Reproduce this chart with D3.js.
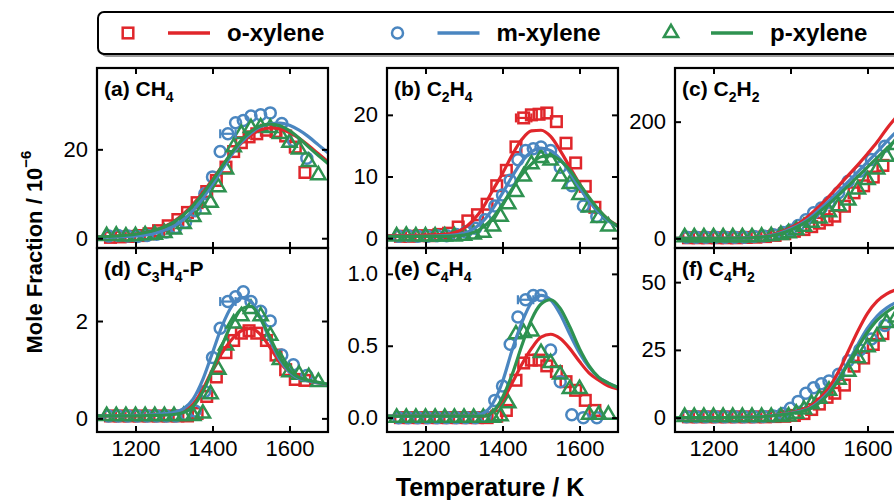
<!DOCTYPE html>
<html lang="en">
<head>
<meta charset="utf-8">
<title>Xylene pyrolysis species profiles</title>
<script src="https://d3js.org/d3.v7.min.js"></script>
<style>
  body { margin: 0; background: #fff; }
  svg text { font-family: "Liberation Sans", Arial, sans-serif; fill: #000; }
</style>
</head>
<body>
<div id="chart"></div>
<script>
// experimental temperatures (K) for each isomer
const T_O = [1135,1160,1185,1210,1235,1260,1285,1310,1335,1360,1385,1410,1435,1455,1475,1495,1515,1540,1565,1590,1615,1640];
const T_M = [1130,1155,1180,1205,1230,1255,1280,1305,1330,1355,1380,1400,1420,1440,1460,1480,1500,1525,1550,1580,1610,1645];
const T_P = [1125,1150,1175,1200,1225,1250,1275,1300,1325,1350,1375,1395,1415,1435,1455,1475,1500,1525,1550,1575,1600,1625,1650,1675];
// model temperature grid (K)
const MODEL_T = [1100,1150,1200,1250,1300,1325,1350,1375,1400,1425,1450,1475,1500,1525,1550,1575,1600,1625,1650,1675,1700];

// (a) CH4, mole fraction / 1e-6
const CH4_O = [0.2,0.3,0.4,0.6,1.0,1.7,2.8,4.2,5.8,8.0,10.5,13.0,16.0,19.5,21.5,22.8,23.5,24.3,24.0,23.0,20.5,14.8];
const CH4_M = [0.5,0.6,0.5,0.4,0.6,0.9,1.4,2.4,3.6,6.2,10.0,13.8,19.5,23.5,26.0,26.5,27.5,27.8,28.2,25.8,22.0,18.0];
const CH4_P = [0.5,0.6,0.4,0.5,0.7,0.8,1.2,2.0,3.2,4.8,6.5,8.0,11.5,15.5,20.5,23.5,24.8,25.0,24.8,23.5,21.5,20.0,17.2,14.2];
const CH4_MOD_O = [0.3,0.5,0.9,1.8,3.8,5.5,7.7,10.3,13.2,16.2,19.0,21.4,23.2,24.4,24.8,24.6,23.8,22.5,20.8,19.0,17.2];
const CH4_MOD_M = [0.2,0.3,0.5,1.1,2.7,4.2,6.3,9.0,12.2,15.5,18.8,21.6,23.7,25.1,25.8,25.9,25.4,24.3,22.8,21.0,19.2];
const CH4_MOD_P = [0.3,0.5,0.9,1.8,3.7,5.3,7.4,10.0,13.0,16.2,19.3,22.0,24.0,25.3,25.7,25.3,24.2,22.5,20.5,18.6,16.8];

// (b) C2H4
const C2H4_O = [0.3,0.3,0.4,0.4,0.6,0.8,1.8,2.8,3.8,5.5,8.5,11.0,14.8,19.5,20.0,20.1,20.3,18.9,15.4,12.2,8.4,5.0];
const C2H4_M = [0.3,0.4,0.3,0.3,0.4,0.4,0.6,1.0,1.6,3.0,5.2,7.0,9.4,12.7,14.2,14.5,14.8,14.2,11.5,8.5,5.2,3.5];
const C2H4_P = [0.3,0.4,0.3,0.3,0.3,0.3,0.3,0.4,0.6,0.9,1.9,3.5,5.5,7.5,10.0,12.0,13.0,12.6,10.0,8.8,7.0,5.0,3.3,1.9];
const C2H4_MOD_O = [0.4,0.4,0.5,0.6,1.6,3.0,5.0,7.8,10.5,13.5,16.0,17.4,17.5,16.5,14.2,11.5,8.8,6.4,4.5,3.0,2.0];
const C2H4_MOD_M = [0.3,0.3,0.3,0.4,0.8,1.5,2.8,4.8,7.3,10.0,12.4,14.0,14.6,14.2,12.8,10.6,8.2,6.0,4.2,2.8,1.9];
const C2H4_MOD_P = [0.3,0.3,0.3,0.3,0.5,0.9,1.8,3.3,5.5,8.0,10.3,12.0,13.2,13.4,12.6,11.0,8.8,6.6,4.6,3.0,1.9];

// (c) C2H2
const C2H2_O = [1,1,1,1,1,1,1.5,2,3,5,8,12,15,20,26,32,38,55,78,90,105,125];
const C2H2_M = [2,2,2,2,2,2,2,3,4,6,10,14,22,32,44,52,62,78,98,115,135,158];
const C2H2_P = [2,2,2,2,2,2,2,2,3,4,6,9,14,20,27,34,45,55,65,84,100,118,140,160];
const C2H2_MOD_O = [0,0,0,0.3,1.5,3,6,11,18,27,40,55,72,90,108,126,145,165,188,208,228];
const C2H2_MOD_M = [0,0,0,0.3,1.2,2.5,5,9.5,16,24,35,49,64,80,97,114,131,148,166,183,200];
const C2H2_MOD_P = [0,0,0,0.2,1,2,4,8,14,22,32,45,59,74,90,106,122,138,154,170,186];

// (d) C3H4-P
const C3H4_O = [0.05,0.05,0.05,0.05,0.05,0.05,0.05,0.05,0.05,0.1,0.45,0.85,1.35,1.6,1.75,1.8,1.75,1.6,1.3,1.0,0.8,0.78];
const C3H4_M = [0.05,0.05,0.05,0.05,0.05,0.05,0.05,0.05,0.08,0.15,0.55,1.25,1.85,2.4,2.5,2.6,2.4,2.2,2.0,1.3,1.1,0.88];
const C3H4_P = [0.05,0.05,0.05,0.05,0.05,0.05,0.05,0.05,0.05,0.05,0.1,0.5,1.0,1.5,1.95,2.1,2.25,2.1,1.7,1.2,0.95,0.9,0.85,0.75];
const C3H4_MOD_O = [0.05,0.05,0.05,0.07,0.1,0.15,0.3,0.6,1.0,1.35,1.62,1.8,1.85,1.72,1.45,1.15,0.95,0.83,0.77,0.73,0.7];
const C3H4_MOD_M = [0.05,0.05,0.06,0.08,0.12,0.2,0.4,0.8,1.35,1.9,2.3,2.48,2.4,2.05,1.6,1.2,0.95,0.82,0.77,0.73,0.7];
const C3H4_MOD_P = [0.05,0.05,0.05,0.06,0.08,0.12,0.25,0.55,1.0,1.5,1.95,2.25,2.3,2.05,1.65,1.25,0.98,0.84,0.78,0.74,0.7];

// (e) C4H4
const C4H4_O = [0,0,0,0,0,0,0,0,0,0,0.01,0.05,0.26,0.38,0.40,0.40,0.36,0.32,0.25,0.19,0.12,0.05];
const C4H4_M = [0,0,0,0,0,0,0,0,0,0.01,0.12,0.22,0.51,0.70,0.82,0.85,0.85,0.47,0.25,0.02,0,0];
const C4H4_P = [0,0,0,0,0,0,0,0,0,0,0,0.01,0.1,0.58,0.59,0.6,0.45,0.38,0.3,0.2,0.2,0.02,0.02,0.02];
const C4H4_MOD_O = [0.01,0.01,0.01,0.01,0.01,0.01,0.01,0.04,0.12,0.24,0.37,0.48,0.56,0.58,0.55,0.48,0.39,0.31,0.26,0.22,0.2];
const C4H4_MOD_M = [0.01,0.01,0.01,0.01,0.01,0.01,0.03,0.1,0.25,0.47,0.66,0.8,0.85,0.82,0.72,0.58,0.45,0.35,0.28,0.24,0.21];
const C4H4_MOD_P = [0.01,0.01,0.01,0.01,0.01,0.01,0.01,0.04,0.14,0.3,0.5,0.68,0.79,0.82,0.76,0.63,0.48,0.36,0.28,0.24,0.21];

// (f) C4H2
const C4H2_O = [0.3,0.3,0.3,0.3,0.3,0.3,0.3,0.3,0.3,0.4,0.5,0.8,1.5,3,5,7.5,9,12,19,22,27,31];
const C4H2_M = [0.3,0.3,0.3,0.3,0.3,0.3,0.3,0.3,0.4,0.6,1.5,3.5,6,9,11,12.5,13.5,16,21,25,29,34];
const C4H2_P = [0.3,0.3,0.3,0.3,0.3,0.3,0.3,0.3,0.3,0.3,0.3,0.5,1.5,3,5,7,10,14,17,22,26,30,35,37];
const C4H2_MOD_O = [0,0,0,0.1,0.2,0.4,0.7,1.2,1.8,2.6,4,7,11,17,24.5,32,38.5,43,45.7,47.2,48];
const C4H2_MOD_M = [0,0,0,0.1,0.2,0.4,0.7,1.1,1.6,2.3,3.5,6,9.5,14.5,20.5,27,33,37.5,40.5,42.5,43.5];
const C4H2_MOD_P = [0,0,0,0.1,0.2,0.3,0.6,1.0,1.5,2.1,3.2,5.5,9,14,20,26,31.5,36,39,41.2,42.5];

// single points shown with a horizontal temperature error bar
const ERR_PANEL = ['a','b','d','e'];
const ERR_ISO   = [1, 0, 1, 1];
const ERR_T     = [1440, 1455, 1440, 1460];
const ERR_V     = [23.5, 19.5, 2.4, 0.82];
const ERR_DT    = 20;

const ISOMERS = ['o-xylene', 'm-xylene', 'p-xylene'];
const COLORS = ['#e0262b', '#4a86c0', '#2e9250'];
const SHAPES = ['square', 'circle', 'triangle'];
const EXP_T = [T_O, T_M, T_P];

const panels = [
  {id:'a', label:'(a) CH_4',     col:0, row:0, yDomain:[-2.2, 38.3],  yTicks:[0,20],       fmt:d3.format('d'),
   exp:[CH4_O,CH4_M,CH4_P],   mod:[CH4_MOD_O,CH4_MOD_M,CH4_MOD_P]},
  {id:'b', label:'(b) C_2H_4',   col:1, row:0, yDomain:[-1.6, 27.6],  yTicks:[0,10,20],    fmt:d3.format('d'),
   exp:[C2H4_O,C2H4_M,C2H4_P], mod:[C2H4_MOD_O,C2H4_MOD_M,C2H4_MOD_P]},
  {id:'c', label:'(c) C_2H_2',   col:2, row:0, yDomain:[-16.6, 292],  yTicks:[0,200],      fmt:d3.format('d'),
   exp:[C2H2_O,C2H2_M,C2H2_P], mod:[C2H2_MOD_O,C2H2_MOD_M,C2H2_MOD_P]},
  {id:'d', label:'(d) C_3H_4-P', col:0, row:1, yDomain:[-0.28, 3.5],  yTicks:[0,2],        fmt:d3.format('d'),
   exp:[C3H4_O,C3H4_M,C3H4_P], mod:[C3H4_MOD_O,C3H4_MOD_M,C3H4_MOD_P]},
  {id:'e', label:'(e) C_4H_4',   col:1, row:1, yDomain:[-0.1, 1.18],  yTicks:[0,0.5,1.0],  fmt:d3.format('.1f'),
   exp:[C4H4_O,C4H4_M,C4H4_P], mod:[C4H4_MOD_O,C4H4_MOD_M,C4H4_MOD_P]},
  {id:'f', label:'(f) C_4H_2',   col:2, row:1, yDomain:[-5.3, 62.6],  yTicks:[0,25,50],    fmt:d3.format('d'),
   exp:[C4H2_O,C4H2_M,C4H2_P], mod:[C4H2_MOD_O,C4H2_MOD_M,C4H2_MOD_P]}
];

const width = 894, height = 500;
const colX = [97, 387, 675], colW = 231;
const rowY = [68, 248], rowH = [180, 184];
const xTicks = [1200, 1400, 1600];

const svg = d3.select('#chart').append('svg')
  .attr('width', width).attr('height', height)
  .style('background', '#fff');

function marker(sel, shape, color) {
  if (shape === 'square') {
    sel.append('rect').attr('x', -5.3).attr('y', -5.3).attr('width', 10.6).attr('height', 10.6);
  } else if (shape === 'circle') {
    sel.append('circle').attr('r', 5.5);
  } else {
    sel.append('path').attr('d', d3.symbol(d3.symbolTriangle, 88)());
  }
  sel.attr('fill', 'none').attr('stroke', color).attr('stroke-width', 2.5);
}

function subText(sel, str, size, subSize) {
  const parts = str.split(/_(\d)/);
  parts.forEach((p, i) => {
    if (!p) return;
    const sub = i % 2 === 1;
    sel.append('tspan')
      .attr('font-size', sub ? subSize : size)
      .attr('dy', sub ? 6 : (i > 0 && parts[i - 1] ? -6 : 0))
      .text(p);
  });
}

panels.forEach(p => {
  const left = colX[p.col], top = rowY[p.row], h = rowH[p.row];
  const x = d3.scaleLinear().domain([1100, 1700]).range([left, left + colW]);
  const y = d3.scaleLinear().domain(p.yDomain).range([top + h, top]);
  const g = svg.append('g');

  g.append('clipPath').attr('id', 'clip' + p.id)
    .append('rect').attr('x', left).attr('y', top).attr('width', colW).attr('height', h);
  const plot = g.append('g').attr('clip-path', `url(#clip${p.id})`);

  // experimental points
  p.exp.forEach((vals, k) => {
    const pts = vals.map((v, i) => [EXP_T[k][i], v]);
    plot.append('g').selectAll('g').data(pts).join('g')
      .attr('transform', d => `translate(${x(d[0])},${y(d[1])})`)
      .each(function () { marker(d3.select(this), SHAPES[k], COLORS[k]); });
  });

  // error bars
  ERR_PANEL.forEach((id, i) => {
    if (id !== p.id) return;
    const c = COLORS[ERR_ISO[i]];
    const yy = y(ERR_V[i]);
    const x0 = x(ERR_T[i] - ERR_DT), x1 = x(ERR_T[i] + ERR_DT);
    const eb = plot.append('g').attr('stroke', c).attr('stroke-width', 2.2);
    eb.append('line').attr('x1', x0).attr('x2', x1).attr('y1', yy).attr('y2', yy);
    eb.append('line').attr('x1', x0).attr('x2', x0).attr('y1', yy - 4.5).attr('y2', yy + 4.5);
    eb.append('line').attr('x1', x1).attr('x2', x1).attr('y1', yy - 4.5).attr('y2', yy + 4.5);
  });

  // model curves
  const line = d3.line().x(d => x(d[0])).y(d => y(d[1])).curve(d3.curveMonotoneX);
  p.mod.forEach((vals, k) => {
    plot.append('path')
      .datum(vals.map((v, i) => [MODEL_T[i], v]))
      .attr('fill', 'none').attr('stroke', COLORS[k]).attr('stroke-width', 3.2)
      .attr('d', line);
  });

  // axes, ticks inward on all four sides
  const style = a => {
    a.attr('font-size', null).attr('font-family', null);
    a.select('.domain').remove();
    a.selectAll('.tick line').attr('stroke', '#000').attr('stroke-width', 2);
    a.selectAll('text').attr('fill', '#000').attr('font-size', 22);
  };
  g.append('g').attr('transform', `translate(${left},0)`)
    .call(d3.axisLeft(y).tickValues(p.yTicks).tickFormat(p.fmt).tickSizeInner(-6).tickSizeOuter(0).tickPadding(9))
    .call(style);
  g.append('g').attr('transform', `translate(${left + colW},0)`)
    .call(d3.axisRight(y).tickValues(p.yTicks).tickFormat('').tickSizeInner(-6).tickSizeOuter(0))
    .call(style);
  g.append('g').attr('transform', `translate(0,${top})`)
    .call(d3.axisTop(x).tickValues(xTicks).tickFormat('').tickSizeInner(-6).tickSizeOuter(0))
    .call(style);
  g.append('g').attr('transform', `translate(0,${top + h})`)
    .call(d3.axisBottom(x).tickValues(xTicks).tickFormat(p.row === 1 ? d3.format('d') : '')
      .tickSizeInner(-6).tickSizeOuter(0).tickPadding(8))
    .call(style);

  g.append('rect').attr('x', left).attr('y', top).attr('width', colW).attr('height', h)
    .attr('fill', 'none').attr('stroke', '#000').attr('stroke-width', 2.2);

  const lab = g.append('text').attr('x', left + 7).attr('y', top + 28)
    .attr('font-weight', 'bold');
  subText(lab, p.label, 21, 14);
});

// axis titles
const yl = svg.append('text')
  .attr('transform', 'translate(42,252) rotate(-90)')
  .attr('text-anchor', 'middle').attr('font-weight', 'bold').attr('font-size', 22);
yl.append('tspan').text('Mole Fraction / 10');
yl.append('tspan').attr('font-size', 15).attr('dy', -11).text('\u22126');

svg.append('text').attr('x', 490).attr('y', 496)
  .attr('text-anchor', 'middle').attr('font-weight', 'bold').attr('font-size', 25)
  .text('Temperature / K');

// legend
const lg = svg.append('g');
lg.append('rect').attr('x', 101).attr('y', 15).attr('width', 820).attr('height', 42)
  .attr('rx', 6).attr('fill', '#9a9a9a');
lg.append('rect').attr('x', 98).attr('y', 12).attr('width', 820).attr('height', 42)
  .attr('rx', 6).attr('fill', '#fff').attr('stroke', '#000').attr('stroke-width', 2);
const legX = [128, 397.5, 671];
ISOMERS.forEach((name, k) => {
  const it = lg.append('g').attr('transform', `translate(${legX[k]},33)`);
  marker(it.append('g'), SHAPES[k], COLORS[k]);
  it.append('line').attr('x1', 40).attr('x2', 82).attr('y1', 0).attr('y2', 0)
    .attr('stroke', COLORS[k]).attr('stroke-width', 3.5);
  it.append('text').attr('x', 99).attr('y', 8).attr('font-weight', 'bold').attr('font-size', 24)
    .text(name);
});
</script>
</body>
</html>
